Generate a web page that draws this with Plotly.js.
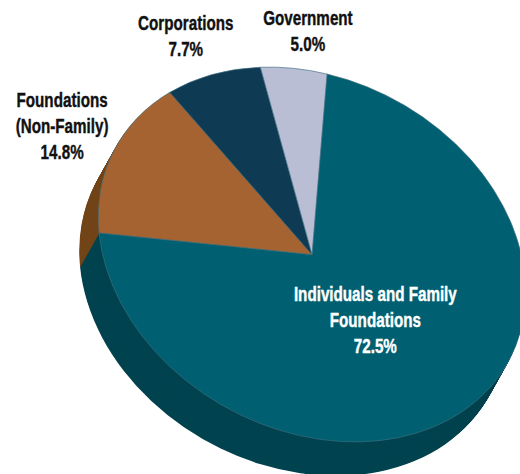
<!DOCTYPE html>
<html><head><meta charset="utf-8">
<script src="https://cdn.plot.ly/plotly-3.0.1.min.js"></script>
<style>html,body{margin:0;padding:0;background:#fff;overflow:hidden}#c{width:520px;height:474px}</style>
</head><body><div id="c"></div>
<script>
const categories = ["Individuals and Family Foundations","Foundations (Non-Family)","Corporations","Government"];
const shares = [72.5,14.8,7.7,5.0];
const topColors = ["#005F70","#A66332","#0E3A54","#B9BED4"];
const sideColors = ["#00434F","#724519","#0A2C40","#8A8FA5"];
const labelLines = [["Individuals and Family","Foundations"],["Foundations","(Non-Family)"],["Corporations"],["Government"]];
const labelX = [375,62,186,308];
const labelY = [320,126,36,31];
const labelColors = ["#FFFFFF","#111111","#111111","#111111"];
const depthSteps = 40;

const W=520,H=474,R=200;
const traces=[];
const base={type:'pie',labels:categories,values:shares,sort:false,direction:'clockwise',rotation:0,
  textinfo:'none',hoverinfo:'skip',showlegend:false,
  domain:{x:[(W/2-R)/W,(W/2+R)/W],y:[(H/2-R)/H,(H/2+R)/H]}};
for(let i=0;i<depthSteps;i++) traces.push({...base,marker:{colors:sideColors,line:{width:0}}});
traces.push({...base,marker:{colors:topColors,line:{width:0.6,color:'#3f6f80'}}});
const annotations=categories.map((c,i)=>({
  xref:'paper',yref:'paper',x:labelX[i]/W,y:1-labelY[i]/H,xanchor:'center',yanchor:'middle',showarrow:false,
  align:'center',font:{family:'"Liberation Sans",sans-serif',size:20,color:labelColors[i]},
  text:labelLines[i].concat(shares[i].toFixed(1)+'%').map(s=>'<b>'+s+'</b>').join('<br>')
}));
Plotly.newPlot('c',traces,{width:W,height:H,margin:{l:0,r:0,t:0,b:0},paper_bgcolor:'#fff',annotations},
  {staticPlot:true,displayModeBar:false}).then(()=>{
  // Tilted-disc projection: each stacked pie is sheared and shifted down to form the extruded side.
  const ts=document.querySelectorAll('.pielayer .trace');
  const a=213.2/R,b=50.5/R,c=-15/R,d=180.5/R,cx=312,cy=254.5,ox=-19,oy=34;
  ts.forEach((t,i)=>{
    const k=1-i/depthSteps;
    const e=cx+ox*k-(a*W/2+c*H/2), f=cy+oy*k-(b*W/2+d*H/2);
    t.setAttribute('transform',`matrix(${a} ${b} ${c} ${d} ${e} ${f})`);
  });
  // Condense the annotation text horizontally, as no narrow bold face is installed.
  document.querySelectorAll('.annotation-text').forEach(t=>{
    const bb=t.getBBox(), m=bb.x+bb.width/2, s=0.76, old=t.getAttribute('transform')||'';
    t.setAttribute('transform',`${old} translate(${m} 0) scale(${s} 1) translate(${-m} 0)`);
    t.style.stroke=t.style.fill; t.style.strokeWidth='0.4px';
  });
});
</script></body></html>
